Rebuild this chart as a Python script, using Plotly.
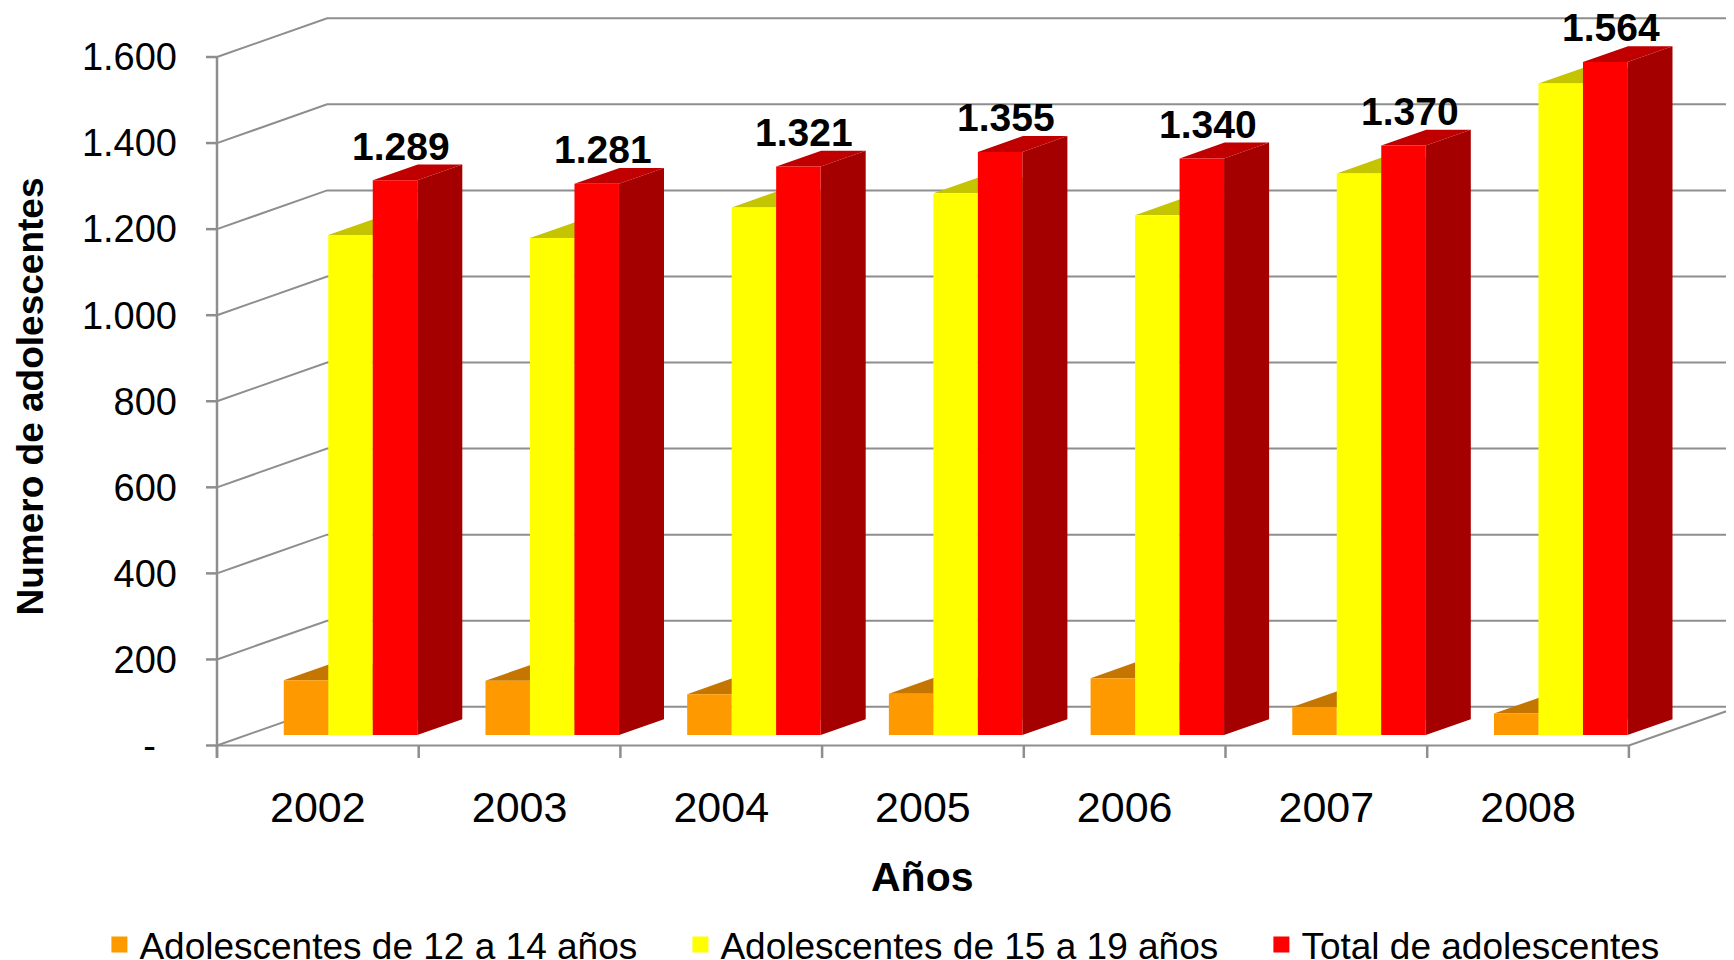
import plotly.graph_objects as go

# Número de adolescentes por año
YEARS = ["2002", "2003", "2004", "2005", "2006", "2007", "2008"]
AGE_12_14 = [127, 126, 95, 96, 132, 65, 50]
AGE_15_19 = [1162, 1155, 1226, 1259, 1208, 1305, 1514]
TOTAL = [1289, 1281, 1321, 1355, 1340, 1370, 1564]
Y_TICKS = [0, 200, 400, 600, 800, 1000, 1200, 1400, 1600]

# name, values, front colour, top colour, side colour
SERIES = [
    ("Adolescentes de 12 a 14 años", AGE_12_14, "#FF9900", "#C47600", "#A86400"),
    ("Adolescentes de 15 a 19 años", AGE_15_19, "#FFFF00", "#C4C400", "#A0A000"),
    ("Total de adolescentes", TOTAL, "#FF0000", "#C00000", "#A40000"),
]
LEGEND_W = [536, 536, 390]

FONT = "Liberation Sans, Arial, sans-serif"
GRID = "#8E8E8E"

# fake 3d: oblique projection, depth measured in axis units
DEPTH_X = 0.546
DEPTH_Y = 90.0
Z0, Z1 = 0.271, 0.68
BAR_W = 0.2206
GROUP_SHIFT = 0.014

# pixel layout (page has an 8px body margin)
OFFSET = 8
W, H = 1734 - OFFSET, 960 - OFFSET
M_L = 200 - OFFSET
M_B = 960 - 758
PLOT_H = H - M_B
PX_PER_CAT = 201.7
PX_PER_UNIT = 0.4303
AXIS_PX = 17          # y axis line, px right of plot left edge
ZERO_PX = 12.5        # value 0, px above plot bottom

n = len(YEARS)
x_lo = -0.5 - AXIS_PX / PX_PER_CAT
x_hi = x_lo + (W - M_L) / PX_PER_CAT
y_lo = -ZERO_PX / PX_PER_UNIT
y_hi = y_lo + PLOT_H / PX_PER_UNIT


def proj(x, v, z):
    return x + z * DEPTH_X, v + z * DEPTH_Y


def poly_trace(points_list, color):
    xs, ys = [], []
    for pts in points_list:
        for p in list(pts) + [pts[0]]:
            px, py = proj(*p)
            xs.append(px)
            ys.append(py)
        xs.append(None)
        ys.append(None)
    return go.Scatter(x=xs, y=ys, mode="lines", fill="toself", fillcolor=color,
                      line=dict(width=0, color=color), hoverinfo="skip",
                      showlegend=False)


def fmt(v):
    return f"{v:,}".replace(",", ".")


fig = go.Figure()

# walls: gridlines on the left and back walls
gx, gy = [], []
x_left, x_right = -0.5, n - 0.5
for v in Y_TICKS:
    for p in (proj(x_left, v, 0), proj(x_left, v, 1), proj(x_right + 1, v, 1)):
        gx.append(p[0])
        gy.append(p[1])
    gx.append(None)
    gy.append(None)
# floor: front edge and right edge
for p in (proj(x_left, 0, 0), proj(x_right, 0, 0), proj(x_right, 0, 1)):
    gx.append(p[0])
    gy.append(p[1])
fig.add_trace(go.Scatter(x=gx, y=gy, mode="lines", line=dict(color=GRID, width=2),
                         hoverinfo="skip", showlegend=False))

# axis line and tick marks
ax_x = [x_left, x_left, None]
ax_y = [Y_TICKS[-1], y_lo, None]
tick_len_x = 11 / PX_PER_CAT
for v in Y_TICKS:
    ax_x += [x_left - tick_len_x, x_left, None]
    ax_y += [v, v, None]
for i in range(n + 1):
    ax_x += [x_left + i, x_left + i, None]
    ax_y += [0, y_lo, None]
fig.add_trace(go.Scatter(x=ax_x, y=ax_y, mode="lines", line=dict(color=GRID, width=2.5),
                         hoverinfo="skip", showlegend=False))

# bars
for k, (name, vals, c_front, c_top, c_side) in enumerate(SERIES):
    fronts, tops, sides = [], [], []
    for i, h in enumerate(vals):
        x0 = i + GROUP_SHIFT + (k - 1.5) * BAR_W
        x1 = x0 + BAR_W
        fronts.append([(x0, 0, Z0), (x1, 0, Z0), (x1, h, Z0), (x0, h, Z0)])
        tops.append([(x0, h, Z0), (x1, h, Z0), (x1, h, Z1), (x0, h, Z1)])
        sides.append([(x1, 0, Z0), (x1, 0, Z1), (x1, h, Z1), (x1, h, Z0)])
    fig.add_trace(poly_trace(tops, c_top))
    fig.add_trace(poly_trace(sides, c_side))
    fig.add_trace(poly_trace(fronts, c_front))

# legend entries
for (name, vals, c_front, c_top, c_side), lw in zip(SERIES, LEGEND_W):
    fig.add_trace(go.Scatter(x=[None], y=[None], mode="markers", name=name,
                             legendwidth=lw,
                             marker=dict(symbol="square", size=18, color=c_front)))

# value labels above the total bars
for i, v in enumerate(TOTAL):
    lx, ly = proj(i + GROUP_SHIFT + BAR_W + 0.03, v, Z0)
    fig.add_annotation(x=lx, y=v + Z1 * DEPTH_Y, text=f"<b>{fmt(v)}</b>",
                       showarrow=False, xanchor="center", yanchor="bottom", yshift=-5,
                       font=dict(family=FONT, size=39, color="black"))

tick_text = [fmt(v) if v else "-\u00a0\u00a0" for v in Y_TICKS]

fig.add_annotation(text="<b>Numero de adolescentes</b>", textangle=-90,
                   xref="paper", yref="paper", x=0, y=1 - (396.5 - OFFSET) / PLOT_H,
                   xshift=30 - OFFSET - M_L, xanchor="center", yanchor="middle",
                   showarrow=False, font=dict(family=FONT, size=37, color="black"))
fig.add_annotation(text="<b>Años</b>", xref="x", yref="paper", x=(n - 1) / 2, y=0,
                   yshift=-119, xanchor="center", yanchor="middle", showarrow=False,
                   font=dict(family=FONT, size=41, color="black"))

fig.update_layout(
    width=W, height=H,
    margin=dict(l=M_L, r=0, t=0, b=M_B, autoexpand=False),
    plot_bgcolor="white", paper_bgcolor="white",
    font=dict(family=FONT, color="black"),
    xaxis=dict(range=[x_lo, x_hi], tickmode="array", tickvals=list(range(n)),
               ticktext=YEARS, ticks="", showgrid=False, zeroline=False,
               showline=False, tickfont=dict(size=43), ticklabelstandoff=20),
    yaxis=dict(range=[y_lo, y_hi], tickmode="array", tickvals=Y_TICKS,
               ticktext=tick_text, ticks="", showgrid=False, zeroline=False,
               showline=False, tickfont=dict(size=38), ticklabelstandoff=22),
    legend=dict(orientation="h", x=(91.4 - M_L) / (W - M_L), y=-156 / PLOT_H,
                xanchor="left", yanchor="top", entrywidthmode="pixels",
                font=dict(size=37), bgcolor="rgba(0,0,0,0)", traceorder="normal"),
    showlegend=True,
)

fig.write_html("out.html")
